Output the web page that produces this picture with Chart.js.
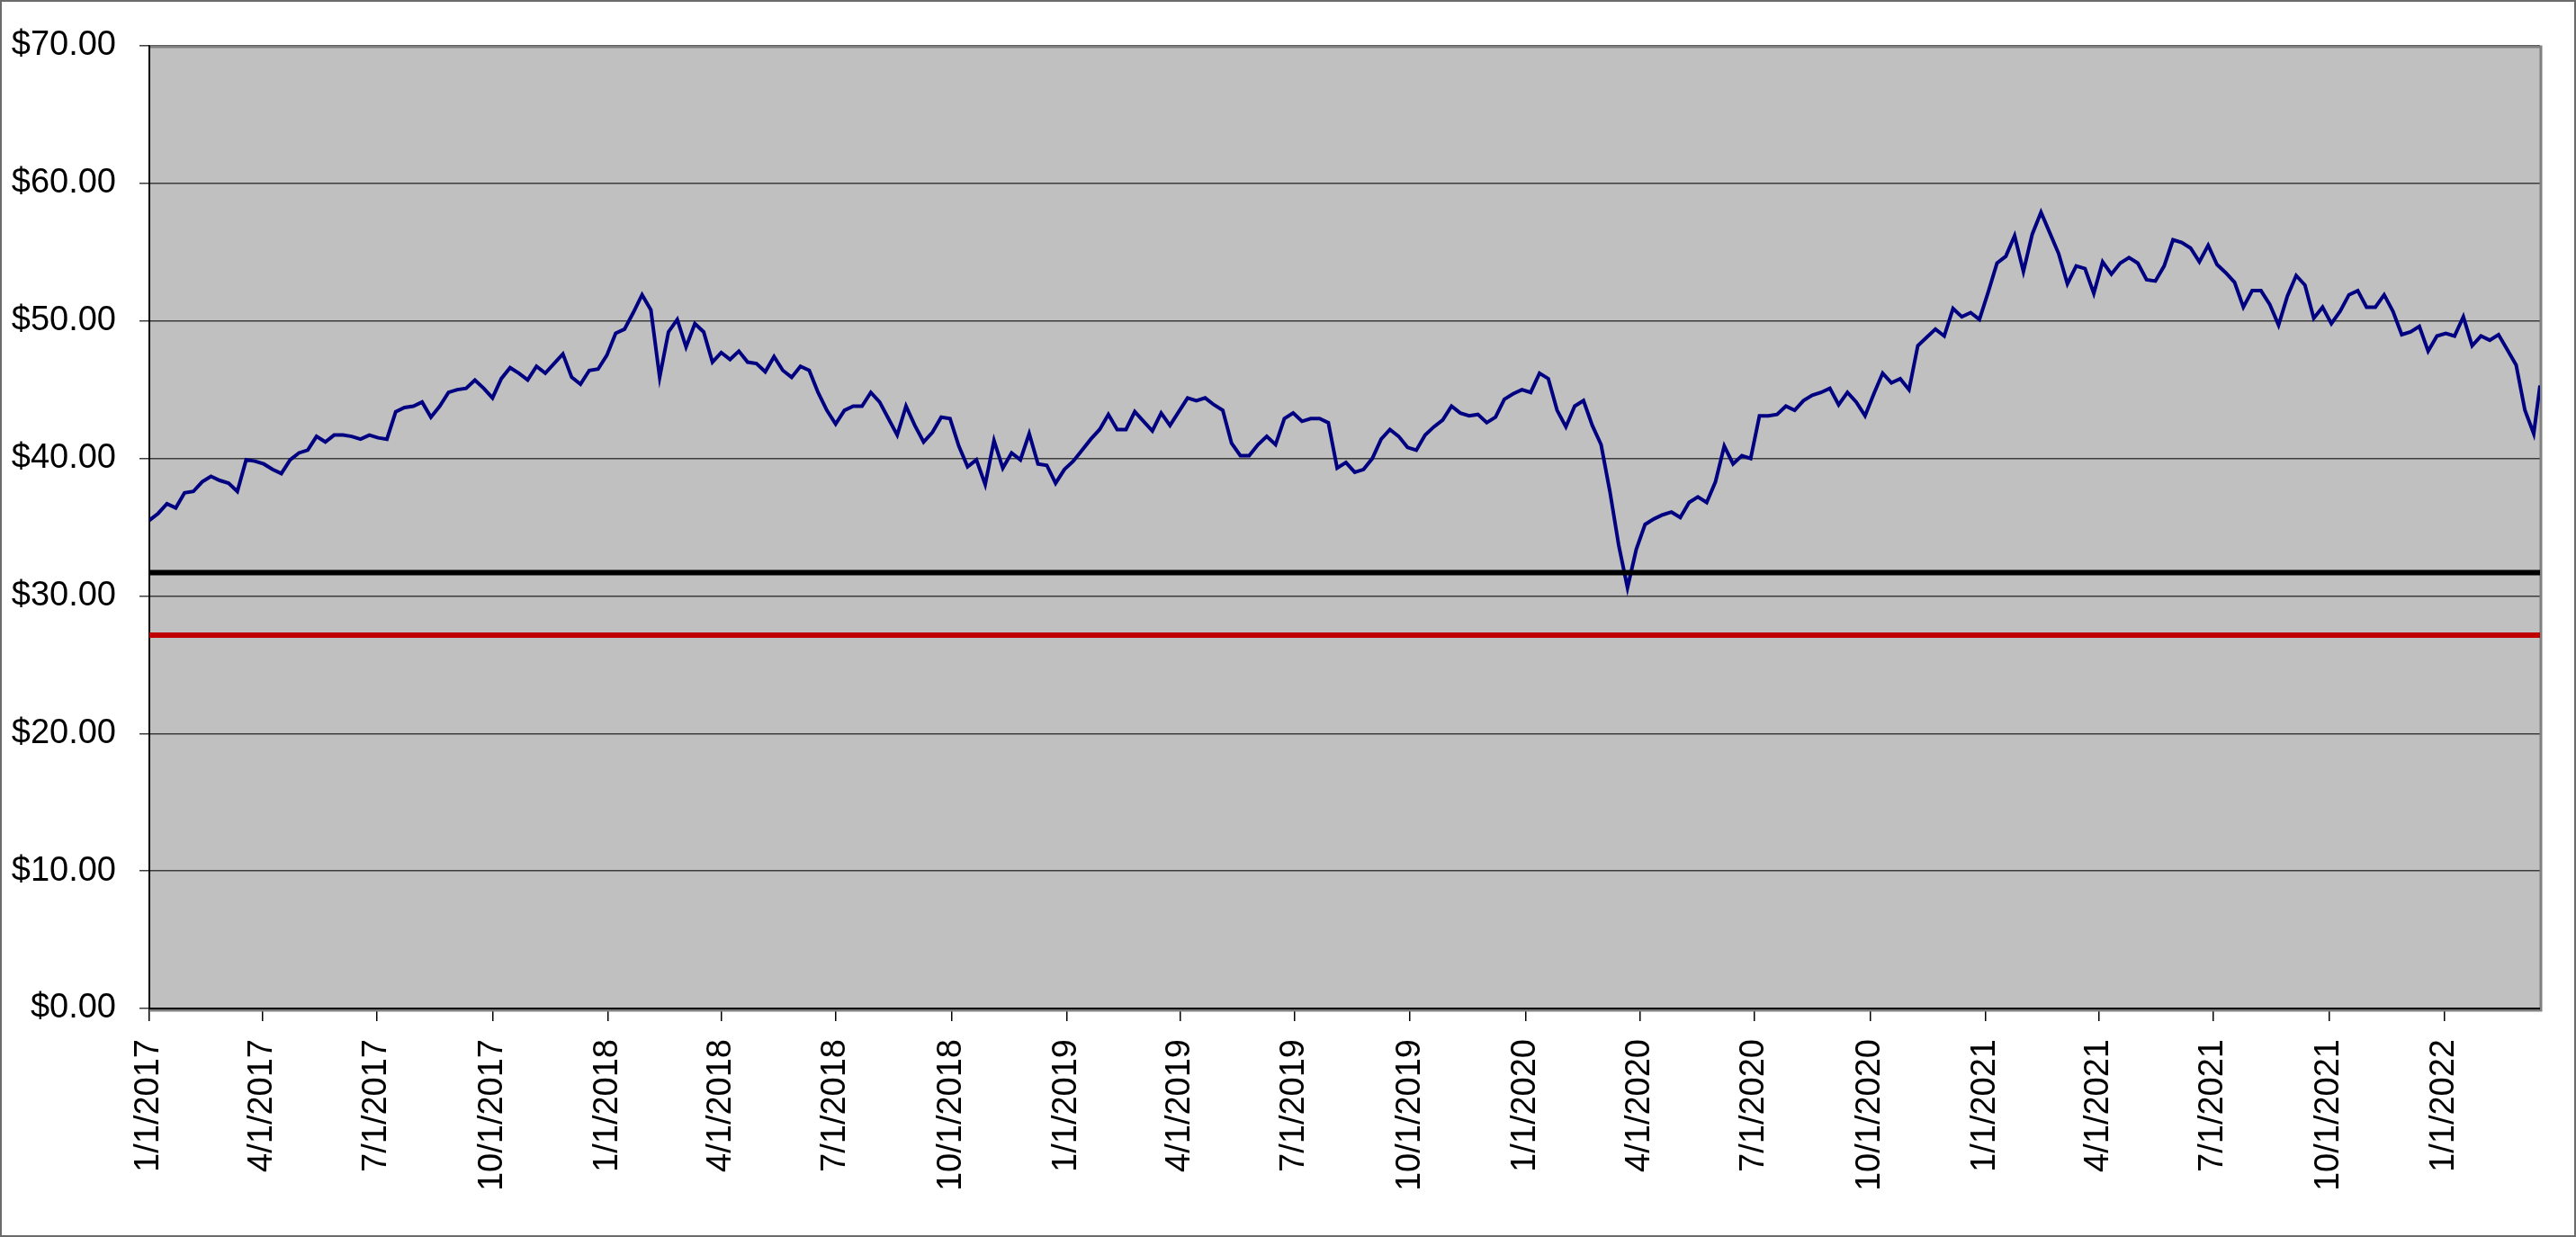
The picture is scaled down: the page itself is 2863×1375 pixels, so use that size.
<!DOCTYPE html>
<html>
<head>
<meta charset="utf-8">
<title>Price chart</title>
<script src="https://cdn.jsdelivr.net/npm/chart.js"></script>
<style>
  html, body { margin: 0; padding: 0; background: #fff; }
  #wrap { width: 2863px; height: 1375px; }
</style>
</head>
<body>
<div id="wrap"><canvas id="myChart" width="2863" height="1375"></canvas></div>
<script>

// weekly closes, first week starts 1/1/2017
const firstDate = '2017-01-01'
const lastDate = '2022-03-18'

const closes = [
  35.5, 36.0, 36.7, 36.4, 37.5, 37.6, 38.3, 38.7, 38.4, 38.2,
  37.6, 39.9, 39.8, 39.6, 39.2, 38.9, 39.9, 40.4, 40.6, 41.6,
  41.2, 41.7, 41.7, 41.6, 41.4, 41.7, 41.5, 41.4, 43.4, 43.7,
  43.8, 44.1, 43.0, 43.8, 44.8, 45.0, 45.1, 45.7, 45.1, 44.4,
  45.8, 46.6, 46.2, 45.7, 46.7, 46.2, 46.9, 47.6, 45.9, 45.4,
  46.4, 46.5, 47.5, 49.1, 49.4, 50.6, 51.9, 50.8, 45.9, 49.2,
  50.1, 48.1, 49.8, 49.2, 47.0, 47.7, 47.2, 47.8, 47.0, 46.9,
  46.3, 47.4, 46.4, 45.9, 46.7, 46.4, 44.8, 43.5, 42.5, 43.5,
  43.8, 43.8, 44.8, 44.1, 42.9, 41.7, 43.8, 42.4, 41.2, 41.9,
  43.0, 42.9, 40.9, 39.4, 39.9, 38.1, 41.3, 39.3, 40.4, 39.9,
  41.8, 39.6, 39.5, 38.2, 39.2, 39.8, 40.6, 41.4, 42.1, 43.2,
  42.1, 42.1, 43.4, 42.7, 42.0, 43.3, 42.4, 43.4, 44.4, 44.2,
  44.4, 43.9, 43.5, 41.1, 40.2, 40.2, 41.0, 41.6, 41.0, 42.9,
  43.3, 42.7, 42.9, 42.9, 42.6, 39.3, 39.7, 39.0, 39.2, 40.0,
  41.4, 42.1, 41.6, 40.8, 40.6, 41.7, 42.3, 42.8, 43.8, 43.3,
  43.1, 43.2, 42.6, 43.0, 44.3, 44.7, 45.0, 44.8, 46.2, 45.8,
  43.5, 42.3, 43.8, 44.2, 42.4, 41.0, 37.6, 33.7, 30.6, 33.4,
  35.2, 35.6, 35.9, 36.1, 35.7, 36.8, 37.2, 36.8, 38.3, 40.9,
  39.6, 40.2, 40.0, 43.1, 43.1, 43.2, 43.8, 43.5, 44.2, 44.6,
  44.8, 45.1, 43.9, 44.8, 44.1, 43.1, 44.7, 46.2, 45.5, 45.8,
  45.0, 48.2, 48.8, 49.4, 48.9, 50.9, 50.3, 50.6, 50.1, 52.1,
  54.2, 54.7, 56.2, 53.6, 56.3, 57.9, 56.4, 54.9, 52.7, 54.0,
  53.8, 52.0, 54.3, 53.4, 54.2, 54.6, 54.2, 53.0, 52.9, 54.0,
  55.9, 55.7, 55.3, 54.3, 55.5, 54.1, 53.5, 52.8, 51.0, 52.2,
  52.2, 51.2, 49.7, 51.8, 53.3, 52.6, 50.2, 51.0, 49.8, 50.7,
  51.9, 52.2, 51.0, 51.0, 51.9, 50.7, 49.0, 49.2, 49.6, 47.8,
  48.9, 49.1, 48.9, 50.3, 48.2, 48.9, 48.6, 49.0, 47.9, 46.8,
  43.5, 41.8, 45.3
]

// the two flat reference lines
const blackLevel = 31.7
const redLevel = 27.15

const tickLabels = [
  '1/1/2017', '4/1/2017', '7/1/2017', '10/1/2017',
  '1/1/2018', '4/1/2018', '7/1/2018', '10/1/2018',
  '1/1/2019', '4/1/2019', '7/1/2019', '10/1/2019',
  '1/1/2020', '4/1/2020', '7/1/2020', '10/1/2020',
  '1/1/2021', '4/1/2021', '7/1/2021', '10/1/2021',
  '1/1/2022'
]

const yTicks = [0, 10, 20, 30, 40, 50, 60, 70]


// days since 1/1/2017
function dayOf(str) {
  let y, m, d
  if (str.indexOf('/') > -1) {
    const p = str.split('/')
    m = +p[0]; d = +p[1]; y = +p[2]
  } else {
    const p = str.split('-')
    y = +p[0]; m = +p[1]; d = +p[2]
  }
  return (Date.UTC(y, m - 1, d) - Date.UTC(2017, 0, 1)) / 86400000
}

const startDay = dayOf(firstDate)
const endDay = dayOf(lastDate)

const pricePoints = closes.map((v, i) => {
  const x = i === closes.length - 1 ? endDay : startDay + i * 7
  return { x: x, y: v }
})

const tickDays = tickLabels.map(dayOf)
const labelByDay = {}
tickLabels.forEach((t, i) => { labelByDay[tickDays[i]] = t })


const plotBg = {
  id: 'plotBg',
  beforeDraw(chart) {
    const c = chart.ctx
    const a = chart.chartArea
    c.save()
    c.fillStyle = '#ffffff'
    c.fillRect(0, 0, chart.width, chart.height)
    c.strokeStyle = '#6b6b6b'
    c.lineWidth = 2
    c.strokeRect(1, 1, chart.width - 2, chart.height - 2)
    c.fillStyle = '#c0c0c0'
    c.fillRect(a.left, a.top, a.right - a.left, a.bottom - a.top)
    c.restore()
  },
  beforeDatasetsDraw(chart) {
    const c = chart.ctx
    const a = chart.chartArea
    c.save()
    c.strokeStyle = '#808080'
    c.lineWidth = 3
    c.beginPath()
    c.moveTo(a.left, a.top + 1)
    c.lineTo(a.right + 1, a.top + 1)
    c.lineTo(a.right + 1, a.bottom + 2)
    c.lineTo(a.left, a.bottom + 2)
    c.stroke()
    c.strokeStyle = '#000000'
    c.lineWidth = 2
    c.beginPath()
    c.moveTo(a.left, a.top)
    c.lineTo(a.left, a.bottom)
    c.lineTo(a.right, a.bottom)
    c.stroke()
    c.restore()
  }
}

Chart.defaults.font.family = '"Liberation Sans", Arial, sans-serif'
Chart.defaults.font.size = 38
Chart.defaults.color = '#000000'

const ctx = document.getElementById('myChart')

new Chart(ctx, {
  type: 'line',
  data: {
    datasets: [
      {
        label: 'Price',
        data: pricePoints,
        borderColor: '#000080',
        borderWidth: 4,
        pointRadius: 0,
        tension: 0,
        order: 3
      },
      {
        label: 'Black line',
        data: [{ x: 0, y: blackLevel }, { x: endDay, y: blackLevel }],
        borderColor: '#000000',
        borderWidth: 6,
        pointRadius: 0,
        order: 2
      },
      {
        label: 'Red line',
        data: [{ x: 0, y: redLevel }, { x: endDay, y: redLevel }],
        borderColor: '#c00000',
        borderWidth: 6,
        pointRadius: 0,
        order: 1
      }
    ]
  },
  options: {
    responsive: false,
    devicePixelRatio: 1,
    animation: false,
    layout: { padding: { left: 0, right: 40, top: 51, bottom: 0 } },
    plugins: {
      legend: { display: false },
      tooltip: { enabled: false }
    },
    scales: {
      x: {
        type: 'linear',
        min: 0,
        max: endDay,
        afterBuildTicks(scale) {
          scale.ticks = tickDays.map(d => ({ value: d }))
        },
        afterFit(scale) {
          scale.height = 254
        },
        ticks: {
          autoSkip: false,
          minRotation: 90,
          maxRotation: 90,
          padding: 20,
          callback: v => labelByDay[v]
        },
        grid: {
          drawOnChartArea: false,
          drawTicks: true,
          tickLength: 14,
          color: '#000000',
          lineWidth: 1.5
        },
        border: { display: true, color: '#000000', width: 2 }
      },
      y: {
        min: 0,
        max: 70,
        afterBuildTicks(scale) {
          scale.ticks = yTicks.map(v => ({ value: v }))
        },
        afterFit(scale) {
          scale.width = 166
        },
        ticks: {
          padding: 26,
          callback: v => '$' + v.toFixed(2)
        },
        grid: {
          color: '#3c3c3c',
          lineWidth: 1.5,
          tickLength: 11
        },
        border: { display: true, color: '#000000', width: 2 }
      }
    }
  },
  plugins: [plotBg]
})
</script>
</body>
</html>
